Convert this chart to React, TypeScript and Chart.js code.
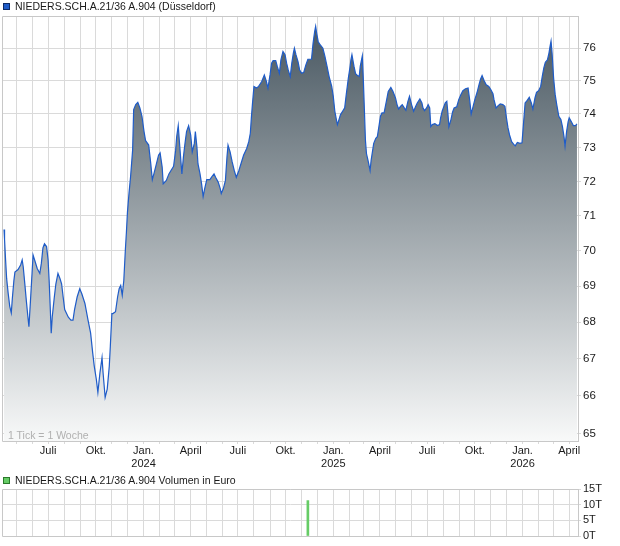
import React, { useEffect, useRef } from 'react';
import { Chart, registerables } from 'chart.js';

Chart.register(...registerables);

const FONT = '"Liberation Sans", Arial, Helvetica, sans-serif';

const seriesName = 'NIEDERS.SCH.A.21/36 A.904 (Düsseldorf)';
const volumeName = 'NIEDERS.SCH.A.21/36 A.904 Volumen in Euro';
const tickNote = '1 Tick = 1 Woche';

const X_START = '2023-04-05';
const X_END = '2026-04-18';

const priceDates = [
  '2023-04-07','2023-04-08','2023-04-10','2023-04-12','2023-04-15','2023-04-18','2023-04-21','2023-04-23','2023-04-26','2023-04-28',
  '2023-05-04','2023-05-09','2023-05-12','2023-05-14','2023-05-17','2023-05-20','2023-05-23','2023-05-25','2023-05-28','2023-05-31',
  '2023-06-02','2023-06-05','2023-06-10','2023-06-15','2023-06-18','2023-06-21','2023-06-24','2023-06-28','2023-07-01','2023-07-03',
  '2023-07-05','2023-07-07','2023-07-09','2023-07-13','2023-07-16','2023-07-20','2023-07-24','2023-07-27','2023-07-30','2023-08-02',
  '2023-08-09','2023-08-14','2023-08-18','2023-08-21','2023-08-26','2023-08-31','2023-09-04','2023-09-10','2023-09-16','2023-09-21',
  '2023-09-25','2023-09-28','2023-10-02','2023-10-05','2023-10-09','2023-10-13','2023-10-15','2023-10-19','2023-10-23','2023-10-27',
  '2023-10-29','2023-11-01','2023-11-03','2023-11-08','2023-11-12','2023-11-15','2023-11-18','2023-11-21','2023-11-24','2023-11-27',
  '2023-11-29','2023-12-01','2023-12-04','2023-12-07','2023-12-11','2023-12-13','2023-12-17','2023-12-21','2023-12-25','2023-12-29',
  '2024-01-02','2024-01-05','2024-01-11','2024-01-15','2024-01-18','2024-01-21','2024-01-26','2024-01-30','2024-02-02','2024-02-06',
  '2024-02-08','2024-02-14','2024-02-19','2024-02-23','2024-02-28','2024-03-03','2024-03-05','2024-03-08','2024-03-10','2024-03-13',
  '2024-03-15','2024-03-18','2024-03-21','2024-03-24','2024-03-28','2024-04-01','2024-04-04','2024-04-08','2024-04-10','2024-04-13',
  '2024-04-15','2024-04-19','2024-04-22','2024-04-25','2024-04-28','2024-05-02','2024-05-08','2024-05-12','2024-05-16','2024-05-19',
  '2024-05-24','2024-05-28','2024-05-30','2024-06-03','2024-06-07','2024-06-10','2024-06-12','2024-06-16','2024-06-20','2024-06-24',
  '2024-06-28','2024-07-03','2024-07-08','2024-07-12','2024-07-18','2024-07-22','2024-07-25','2024-07-27','2024-07-29','2024-08-01',
  '2024-08-06','2024-08-10','2024-08-16','2024-08-21','2024-08-25','2024-08-28','2024-09-01','2024-09-04','2024-09-07','2024-09-12',
  '2024-09-15','2024-09-19','2024-09-22','2024-09-26','2024-09-30','2024-10-03','2024-10-06','2024-10-10','2024-10-13','2024-10-16',
  '2024-10-18','2024-10-21','2024-10-25','2024-10-28','2024-11-01','2024-11-05','2024-11-09','2024-11-13','2024-11-20','2024-11-23',
  '2024-11-26','2024-11-28','2024-11-30','2024-12-03','2024-12-07','2024-12-12','2024-12-16','2024-12-20','2024-12-24','2024-12-29',
  '2025-01-01','2025-01-04','2025-01-07','2025-01-09','2025-01-12','2025-01-15','2025-01-19','2025-01-23','2025-01-26','2025-01-30',
  '2025-02-02','2025-02-04','2025-02-06','2025-02-10','2025-02-13','2025-02-17','2025-02-20','2025-02-22','2025-02-26','2025-02-28',
  '2025-03-02','2025-03-04','2025-03-06','2025-03-09','2025-03-13','2025-03-15','2025-03-18','2025-03-20','2025-03-24','2025-03-27',
  '2025-03-30','2025-04-02','2025-04-05','2025-04-09','2025-04-14','2025-04-17','2025-04-22','2025-04-26','2025-05-01','2025-05-04',
  '2025-05-07','2025-05-11','2025-05-14','2025-05-18','2025-05-21','2025-05-25','2025-05-28','2025-06-01','2025-06-05','2025-06-09',
  '2025-06-12','2025-06-17','2025-06-21','2025-06-23','2025-06-26','2025-06-30','2025-07-03','2025-07-06','2025-07-08','2025-07-11',
  '2025-07-16','2025-07-21','2025-07-25','2025-07-27','2025-07-30','2025-08-02','2025-08-05','2025-08-08','2025-08-10','2025-08-12',
  '2025-08-16','2025-08-19','2025-08-22','2025-08-27','2025-08-31','2025-09-04','2025-09-08','2025-09-13','2025-09-18','2025-09-21',
  '2025-09-24','2025-09-27','2025-10-01','2025-10-05','2025-10-09','2025-10-12','2025-10-15','2025-10-19','2025-10-23','2025-10-28',
  '2025-11-01','2025-11-05','2025-11-07','2025-11-11','2025-11-15','2025-11-19','2025-11-24','2025-11-28','2025-12-01','2025-12-04',
  '2025-12-07','2025-12-11','2025-12-15','2025-12-18','2025-12-22','2025-12-27','2025-12-31','2026-01-03','2026-01-06','2026-01-10',
  '2026-01-14','2026-01-18','2026-01-21','2026-01-25','2026-01-28','2026-02-01','2026-02-05','2026-02-08','2026-02-11','2026-02-14',
  '2026-02-18','2026-02-21','2026-02-23','2026-02-25','2026-02-27','2026-03-02','2026-03-05','2026-03-08','2026-03-12','2026-03-16',
  '2026-03-19','2026-03-22','2026-03-24','2026-03-27','2026-03-30','2026-04-01','2026-04-05','2026-04-09','2026-04-13','2026-04-16',
];

const priceValues = [
  70.61,70.32,69.74,69.22,68.8,68.44,68.26,68.66,69.16,69.4,
  69.47,69.6,69.74,69.55,69.08,68.6,68.15,67.88,68.6,69.36,
  69.88,69.74,69.5,69.36,69.65,70.08,70.2,70.12,69.74,69.16,
  68.44,67.7,68.15,68.7,69.07,69.36,69.21,69.07,68.7,68.35,
  68.14,68.06,68.06,68.35,68.7,68.93,68.79,68.52,68.06,67.7,
  67.16,66.8,66.44,66.09,66.62,67.03,66.62,65.96,66.18,66.8,
  67.34,68.24,68.24,68.29,68.7,68.93,69.02,68.75,69.16,70.03,
  70.52,71.1,71.65,72.13,72.92,74.13,74.28,74.35,74.18,73.93,
  73.47,73.2,73.07,72.52,72.05,72.22,72.52,72.77,72.84,72.42,
  71.93,72.03,72.22,72.32,72.44,72.92,73.32,73.65,73.22,72.62,
  72.22,72.72,73.12,73.47,73.65,73.37,72.87,73.12,73.47,73.02,
  72.52,72.22,71.93,71.56,71.79,72.05,72.05,72.14,72.22,72.12,
  71.98,71.79,71.65,71.79,72.03,72.72,73.07,72.87,72.57,72.32,
  72.12,72.32,72.57,72.77,72.97,73.17,73.42,73.88,74.28,74.83,
  74.78,74.83,74.98,75.18,74.98,74.78,75.18,75.54,75.62,75.62,
  75.44,75.23,75.64,75.9,75.8,75.54,75.34,75.13,75.54,75.85,
  76.0,75.8,75.59,75.34,75.23,75.26,75.48,75.66,75.66,76.15,
  76.51,76.68,76.46,76.2,76.1,76.0,75.74,75.44,75.13,74.83,
  74.53,74.08,73.83,73.68,73.83,73.98,74.08,74.18,74.58,75.08,
  75.39,75.64,75.8,75.44,75.22,75.16,75.13,75.44,75.76,75.03,
  74.13,73.22,72.82,72.62,72.32,72.62,72.92,73.12,73.27,73.32,
  73.62,73.93,74.03,74.03,74.43,74.68,74.8,74.68,74.48,74.28,
  74.15,74.23,74.28,74.18,74.11,74.38,74.53,74.28,74.08,74.23,
  74.33,74.45,74.33,74.18,74.1,74.18,74.28,74.18,73.62,73.68,
  73.71,73.65,73.68,73.88,74.08,74.21,74.33,74.38,74.03,73.62,
  73.83,74.05,74.18,74.21,74.43,74.58,74.7,74.76,74.78,74.43,
  74.0,74.18,74.43,74.63,74.88,75.05,75.16,75.0,74.88,74.83,
  74.73,74.61,74.43,74.18,74.25,74.3,74.28,74.23,73.88,73.58,
  73.37,73.17,73.09,73.05,73.15,73.12,73.14,73.73,74.33,74.41,
  74.5,74.33,74.15,74.48,74.65,74.7,74.83,75.13,75.39,75.57,
  75.64,75.85,76.05,76.22,75.85,75.08,74.58,74.28,73.93,73.83,
  73.62,73.32,73.04,73.47,73.77,73.88,73.77,73.65,73.65,73.7,
];

const volumeDates = ['2024-11-13'];
const volumeValues = [11300];

const priceTicks = [65, 66, 67, 68, 69, 70, 71, 72, 73, 74, 75, 76];
const volumeTicks = [0, 5000, 10000, 15000];
const quarterLabels: Record<number, string> = { 0: 'Jan.', 3: 'April', 6: 'Juli', 9: 'Okt.' };

const dayNum = (s: string) => {
  const [y, m, d] = s.split('-').map(Number);
  return Date.UTC(y, m - 1, d) / 86400000;
};

const X_MIN = dayNum(X_START);
const X_MAX = dayNum(X_END);

const monthStarts = (() => {
  const out: number[] = [];
  const s = new Date(X_MIN * 86400000);
  let y = s.getUTCFullYear();
  let m = s.getUTCMonth() + 1;
  while (true) {
    if (m > 11) { m = 0; y++; }
    const v = Date.UTC(y, m, 1) / 86400000;
    if (v > X_MAX) break;
    out.push(v);
    m++;
  }
  return out;
})();

const monthLabel = (v: number) => {
  const d = new Date(v * 86400000);
  const m = d.getUTCMonth();
  const lbl = quarterLabels[m];
  if (!lbl) return '';
  if (m === 0) return [lbl, String(d.getUTCFullYear())];
  return lbl;
};

const GRID = '#dadada';
const FRAME = '#c8c8c8';
const TEXT = '#1a1a1a';

const framePlugin = {
  id: 'frame',
  afterDatasetsDraw(chart: any) {
    const { ctx, chartArea: a } = chart;
    ctx.save();
    ctx.strokeStyle = FRAME;
    ctx.lineWidth = 1;
    const l = Math.round(a.left) - 0.5;
    const t = Math.round(a.top) + 0.5;
    const r = Math.round(a.right) + 0.5;
    const b = Math.round(a.bottom) + 0.5;
    ctx.beginPath();
    ctx.moveTo(l, b); ctx.lineTo(l, t); ctx.lineTo(r, t); ctx.lineTo(r, b); ctx.lineTo(l, b);
    ctx.stroke();
    ctx.restore();
  },
};

export default function App() {
  const mainRef = useRef<HTMLCanvasElement>(null);
  const volRef = useRef<HTMLCanvasElement>(null);

  useEffect(() => {
    const font = { family: FONT, size: 11 };
    const main = new Chart(mainRef.current!, {
      type: 'line',
      data: {
        datasets: [
          {
            data: priceDates.map((d, i) => ({ x: dayNum(d), y: priceValues[i] })),
            borderColor: '#1f5cc8',
            borderWidth: 1.2,
            pointRadius: 0,
            tension: 0,
            fill: 'start',
            backgroundColor: (c: any) => {
              const a = c.chart.chartArea;
              if (!a) return '#8899a4';
              const g = c.chart.ctx.createLinearGradient(0, a.top, 0, a.bottom);
              g.addColorStop(0, '#46555f');
              g.addColorStop(1, '#f8f9f9');
              return g;
            },
          },
        ],
      },
      options: {
        responsive: false,
        animation: false,
        events: [],
        layout: { padding: { top: 16, left: 3, right: 0, bottom: 0 } },
        plugins: { legend: { display: false }, tooltip: { enabled: false } },
        scales: {
          x: {
            type: 'linear',
            min: X_MIN,
            max: X_MAX,
            afterBuildTicks: (s: any) => { s.ticks = monthStarts.map((v) => ({ value: v })); },
            afterFit: (s: any) => { s.height = 29; },
            ticks: { autoSkip: false, maxRotation: 0, minRotation: 0, padding: 0, color: TEXT, font, callback: (v: any) => monthLabel(Number(v)) },
            grid: { color: GRID, tickLength: 3, drawTicks: true },
            border: { display: true, color: FRAME },
          },
          y: {
            type: 'logarithmic',
            position: 'right',
            min: 64.8,
            max: 77.0,
            afterBuildTicks: (s: any) => { s.ticks = priceTicks.map((v) => ({ value: v })); },
            afterFit: (s: any) => { s.width = 42; },
            ticks: { autoSkip: false, padding: 2, color: TEXT, font: { family: FONT, size: 11.5 }, callback: (v: any) => String(v) },
            grid: { color: GRID, tickLength: 3 },
            border: { display: true, color: FRAME },
          },
        },
      } as any,
      plugins: [framePlugin],
    });

    const vol = new Chart(volRef.current!, {
      type: 'bar',
      data: {
        datasets: [
          {
            data: volumeDates.map((d, i) => ({ x: dayNum(d), y: volumeValues[i] })),
            backgroundColor: '#66cc66',
            barThickness: 2,
            grouped: false,
          } as any,
        ],
      },
      options: {
        responsive: false,
        animation: false,
        events: [],
        layout: { padding: { top: 19, left: 3, right: 0, bottom: 0 } },
        plugins: { legend: { display: false }, tooltip: { enabled: false } },
        scales: {
          x: {
            type: 'linear',
            min: X_MIN,
            max: X_MAX,
            offset: false,
            afterBuildTicks: (s: any) => { s.ticks = monthStarts.map((v) => ({ value: v })); },
            afterFit: (s: any) => { s.height = 10; },
            ticks: { display: false },
            grid: { color: GRID, drawTicks: false, offset: false },
            border: { display: true, color: FRAME },
          },
          y: {
            type: 'linear',
            position: 'right',
            min: 0,
            max: 15000,
            afterBuildTicks: (s: any) => { s.ticks = volumeTicks.map((v) => ({ value: v })); },
            afterFit: (s: any) => { s.width = 42; },
            ticks: { autoSkip: false, padding: 2, color: TEXT, font, callback: (v: any) => `${Number(v) / 1000}T` },
            grid: { color: GRID, tickLength: 3 },
            border: { display: true, color: FRAME },
          },
        },
      } as any,
      plugins: [framePlugin],
    });

    return () => {
      main.destroy();
      vol.destroy();
    };
  }, []);

  const legendText: React.CSSProperties = {
    position: 'absolute',
    left: 15,
    fontFamily: FONT,
    fontSize: '10.5px',
    lineHeight: '13px',
    color: TEXT,
    whiteSpace: 'nowrap',
  };

  return (
    <div style={{ position: 'absolute', left: 0, top: 0, width: 620, height: 546, background: '#fff', overflow: 'hidden' }}>
      <canvas ref={mainRef} width={620} height={470} style={{ position: 'absolute', left: 0, top: 0, display: 'block' }} />
      <canvas ref={volRef} width={620} height={76} style={{ position: 'absolute', left: 0, top: 470, display: 'block' }} />
      <div style={{ position: 'absolute', left: 3, top: 3, width: 5, height: 5, background: '#1f5cc8', border: '1px solid #0d2a66' }} />
      <div style={{ ...legendText, top: 0 }}>{seriesName}</div>
      <div style={{ position: 'absolute', left: 3, top: 477, width: 5, height: 5, background: '#66cc66', border: '1px solid #2b7a2b' }} />
      <div style={{ ...legendText, top: 473.5 }}>{volumeName}</div>
      <div style={{ position: 'absolute', left: 8, top: 428.5, fontFamily: FONT, fontSize: '10.5px', lineHeight: '13px', color: '#b0b0b0', whiteSpace: 'nowrap' }}>{tickNote}</div>
    </div>
  );
}
